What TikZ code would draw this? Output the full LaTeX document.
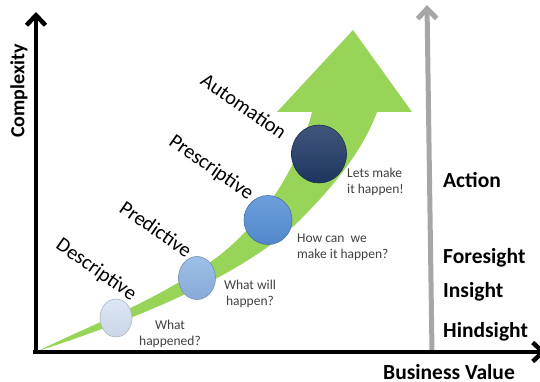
\documentclass[tikz,border=0pt]{standalone}
\usepackage{fontspec}
\setmainfont{Carlito}
\usepackage{xcolor}
\usetikzlibrary{shapes.geometric,arrows.meta}

\definecolor{arrowgreen}{RGB}{152,212,88}
\definecolor{axisgray}{RGB}{166,166,166}
\definecolor{notegray}{RGB}{64,64,64}
\definecolor{descblue}{RGB}{214,226,242}
\definecolor{predblue}{RGB}{141,180,226}
\definecolor{prescblue}{RGB}{85,142,213}
\definecolor{autoblue}{RGB}{31,56,100}

\begin{document}
\begin{tikzpicture}[
  x=1pt, y=-1pt,
  axis/.style={line width=4.5pt, -{Straight Barb[length=10pt,width=19pt]}},
  valueaxis/.style={axis, draw=axisgray, line width=5pt},
  stage/.style={ellipse, inner sep=0pt, draw=#1!80!black, line width=0.6pt,
    top color=#1!85!white, middle color=#1, bottom color=#1!95!black},
  stagelabel/.style={font=\fontsize{20.5}{24}\selectfont, rotate=-35, inner sep=0pt},
  note/.style={font=\fontsize{13.5}{16}\selectfont, text=notegray, inner sep=0pt},
  level/.style={font=\bfseries\fontsize{21.5}{24}\selectfont, anchor=base west, inner sep=0pt}
]
\useasboundingbox (0,0) rectangle (540,382);

% axes
\coordinate (origin) at (36,352);
\coordinate (ytop) at (36,12);
\coordinate (xleft) at (33,352);
\coordinate (xend) at (546,352);
\coordinate (vbase) at (432,352);
\coordinate (vtop) at (427,5);

% growth arrow
\fill[arrowgreen] (38,351) .. controls (150,315) and (250,270) .. (300,220)
  .. controls (340,180) and (365,145) .. (377,112)
  -- (412,112) -- (353,30) -- (277,112) -- (312,112)
  .. controls (300,160) and (270,215) .. (220,255)
  .. controls (160,300) and (90,325) .. (38,351) -- cycle;

\draw[valueaxis] (vbase) -- (vtop);
\draw[axis] (xleft) -- (xend);
\draw[axis] (origin) -- (ytop);

% stages
\node[stage=descblue, minimum width=32pt, minimum height=38pt] (desc) at (116,318) {};
\node[stage=predblue, minimum width=37pt, minimum height=43pt] (pred) at (197,278) {};
\node[stage=prescblue, minimum width=48pt, minimum height=49pt] (presc) at (268,220) {};
\node[stage=autoblue, minimum width=55pt, minimum height=58pt] (auto) at (319,154) {};

\node[stagelabel] (desclbl) at (96,270) {Descriptive};
\node[stagelabel] (predlbl) at (156,229) {Predictive};
\node[stagelabel] (presclbl) at (211,168) {Prescriptive};
\node[stagelabel] (autolbl) at (244,106) {Automation};

\node[note, align=center] (descnote) at (170,334) {What\\happened?};
\node[note, align=center] (prednote) at (250,294) {What will\\happen?};
\node[note, align=left, anchor=west] (prescnote) at (297,247) {How can~ we\\make it happen?};
\node[note, align=left, anchor=west] (autonote) at (347,182) {Lets make\\it happen!};

% value levels
\node[level] (action) at (443,187) {Action};
\node[level] (foresight) at (443,263) {Foresight};
\node[level] (insight) at (443,297) {Insight};
\node[level] (hindsight) at (443,337) {Hindsight};

\node[font=\bfseries\fontsize{20}{24}\selectfont, rotate=90, inner sep=0pt] (ylabel) at (19,91) {Complexity};
\node[level] (xlabel) at (383,379) {Business Value};
\end{tikzpicture}
\end{document}
